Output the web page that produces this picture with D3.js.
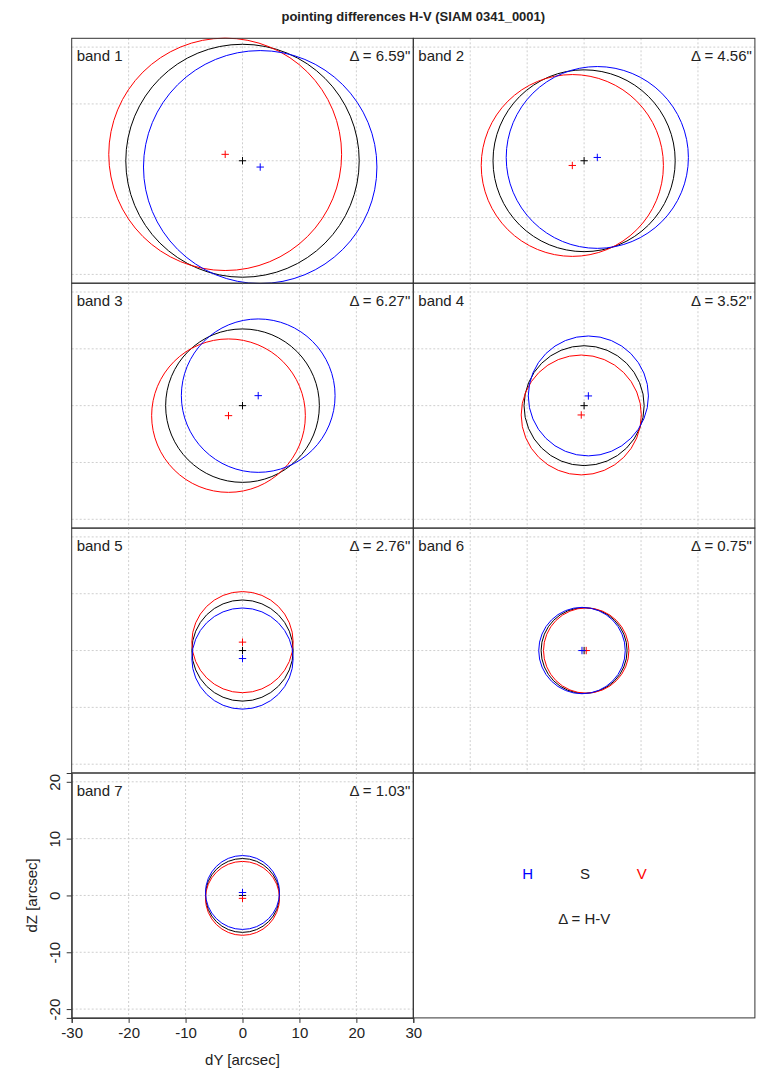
<!DOCTYPE html>
<html>
<head>
  <meta charset="UTF-8">
  <title>pointing differences H-V</title>
  <script src="https://d3js.org/d3.v7.min.js"></script>
  <style>
    body { margin: 0; padding: 0; background: #fff; }
    svg { display: block; }
    text { font-family: "Liberation Sans", Arial, sans-serif; fill: #222; }
  </style>
</head>
<body>
<script>
  // values (arcsec)
  const bands = ["band 1", "band 2", "band 3", "band 4", "band 5", "band 6", "band 7"];
  const deltas = ["6.59", "4.56", "6.27", "3.52", "2.76", "0.75", "1.03"];
  const hX = [3.11, 2.32, 2.76, 0.75, 0, -0.37, 0];
  const hY = [-1.11, 0.58, 1.76, 1.71, -1.41, 0, 0.52];
  const vX = [-3.04, -2.07, -2.46, -0.5, 0, 0.37, 0];
  const vY = [1.13, -0.83, -1.76, -1.64, 1.48, 0, -0.51];
  const sX = [0, 0, 0, 0, 0, 0, 0];
  const sY = [0, 0, 0, 0, 0, 0, 0];
  const rH = [20.5, 16.0, 13.5, 10.55, 8.9, 7.6, 6.5];
  const rS = [20.5, 16.0, 13.5, 10.55, 8.9, 7.55, 6.5];
  const rV = [20.45, 16.0, 13.5, 10.55, 8.9, 7.5, 6.5];
  const xTicks = [-30, -20, -10, 0, 10, 20, 30];
  const yTicks = [-20, -10, 0, 10, 20];
  const gridVals = [-20, -10, 0, 10, 20];

  const width = 764, height = 1070;
  const colLeft = [71.7, 413.3];
  const colW = 341.6;
  const rowTop = 38.3, rowH = 244.9;
  const ylim = 21.55;

  const svg = d3.select("body").append("svg")
    .attr("width", width)
    .attr("height", height);

  svg.append("text")
    .attr("x", 413.3).attr("y", 21)
    .attr("text-anchor", "middle")
    .style("font-size", "13px")
    .style("font-weight", "bold")
    .text("pointing differences H-V (SIAM 0341_0001)");

  const series = [
    {name: "S", color: "#000", x: sX, y: sY, r: rS},
    {name: "V", color: "#ff0000", x: vX, y: vY, r: rV},
    {name: "H", color: "#0000ff", x: hX, y: hY, r: rH}
  ];

  function panelScales(i) {
    const col = i % 2, row = Math.floor(i / 2);
    const x = d3.scaleLinear().domain([-30, 30]).range([colLeft[col], colLeft[col] + colW]);
    const top = rowTop + row * rowH;
    const y = d3.scaleLinear().domain([-ylim, ylim]).range([top + rowH, top]);
    return {x, y, top, left: colLeft[col]};
  }

  for (let i = 0; i < 8; i++) {
    const {x, y, top, left} = panelScales(i);
    const g = svg.append("g");

    if (i < bands.length) {
      // grid
      g.selectAll(".gx").data(gridVals).enter().append("line")
        .attr("x1", d => x(d)).attr("x2", d => x(d))
        .attr("y1", top).attr("y2", top + rowH)
        .attr("stroke", "#cfcfcf").attr("stroke-dasharray", "2,2");
      g.selectAll(".gy").data(gridVals).enter().append("line")
        .attr("y1", d => y(d)).attr("y2", d => y(d))
        .attr("x1", left).attr("x2", left + colW)
        .attr("stroke", "#cfcfcf").attr("stroke-dasharray", "2,2");

      series.forEach(s => {
        const cx = x(s.x[i]), cy = y(s.y[i]);
        g.append("ellipse")
          .attr("cx", cx).attr("cy", cy)
          .attr("rx", x(s.r[i]) - x(0))
          .attr("ry", y(0) - y(s.r[i]))
          .attr("fill", "none")
          .attr("stroke", s.color)
          .attr("stroke-width", 1);
        g.append("path")
          .attr("d", `M${cx - 3.7},${cy}H${cx + 3.7}M${cx},${cy - 3.7}V${cy + 3.7}`)
          .attr("stroke", s.color)
          .attr("stroke-width", 1);
      });

      g.append("text")
        .attr("x", left + 5).attr("y", top + 22.5)
        .style("font-size", "15px")
        .text(bands[i]);
      g.append("text")
        .attr("x", left + colW - 3).attr("y", top + 22.5)
        .attr("text-anchor", "end")
        .style("font-size", "15px")
        .text("\u0394 = " + deltas[i] + "\"");
    } else {
      // legend panel
      const cy = top + 106;
      [["H", "#0000ff", 527.7], ["S", "#222", 585], ["V", "#ff0000", 641.7]].forEach(d => {
        g.append("text")
          .attr("x", d[2]).attr("y", cy)
          .attr("text-anchor", "middle")
          .style("font-size", "15px")
          .style("fill", d[1])
          .text(d[0]);
      });
      g.append("text")
        .attr("x", 584.3).attr("y", top + 151)
        .attr("text-anchor", "middle")
        .style("font-size", "15px")
        .text("\u0394 = H-V");
    }

    g.append("rect")
      .attr("x", left).attr("y", top)
      .attr("width", colW).attr("height", rowH)
      .attr("fill", "none")
      .attr("stroke", "#333")
      .attr("stroke-width", 1);
  }

  // axes on band 7 panel
  const p7 = panelScales(6);
  const fmt = d => String(d);
  const xAxis = svg.append("g")
    .attr("transform", `translate(0,${p7.top + rowH})`)
    .call(d3.axisBottom(p7.x).tickValues(xTicks).tickFormat(fmt).tickSize(5).tickPadding(4));
  const yAxis = svg.append("g")
    .attr("transform", `translate(${p7.left},0)`)
    .call(d3.axisLeft(p7.y).tickValues(yTicks).tickFormat(fmt).tickSize(5).tickPadding(3));
  [xAxis, yAxis].forEach(a => {
    a.select(".domain").attr("stroke", "#333");
    a.selectAll(".tick line").attr("stroke", "#333");
    a.selectAll("text")
      .style("font-size", "15px")
      .style("font-family", "'Liberation Sans', Arial, sans-serif")
      .attr("fill", "#222");
  });
  // rotate each y tick label around its tick
  yAxis.selectAll(".tick text")
    .attr("text-anchor", "middle")
    .attr("dy", 0)
    .attr("transform", "rotate(-90)")
    .attr("x", 0)
    .attr("y", -12);

  svg.append("text")
    .attr("x", p7.x(0)).attr("y", 1065)
    .attr("text-anchor", "middle")
    .style("font-size", "15px")
    .text("dY [arcsec]");
  svg.append("text")
    .attr("transform", `translate(37,${p7.y(0)}) rotate(-90)`)
    .attr("text-anchor", "middle")
    .style("font-size", "15px")
    .text("dZ [arcsec]");
</script>
</body>
</html>
